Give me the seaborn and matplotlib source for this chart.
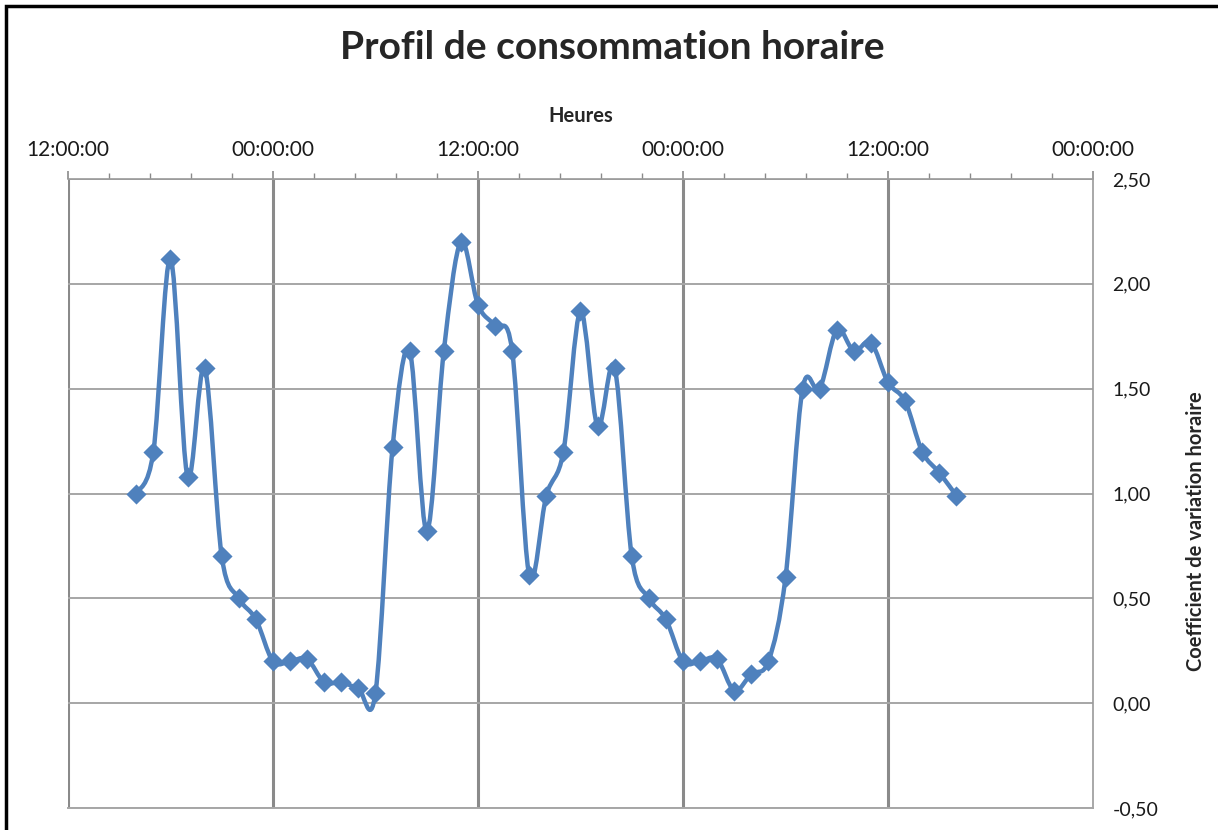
import numpy as np
import pandas as pd
import seaborn as sns
import matplotlib.pyplot as plt
from matplotlib.path import Path
from matplotlib.patches import PathPatch, Rectangle
from matplotlib.ticker import MultipleLocator, FuncFormatter

# heures depuis minuit du premier jour (16h jour 1 -> 16h jour 3)
heures = list(range(16, 65))
coef = [1.00, 1.20, 2.12, 1.08, 1.60, 0.70, 0.50, 0.40,
        0.20, 0.20, 0.21, 0.10, 0.10, 0.07, 0.05, 1.22, 1.68, 0.82, 1.68, 2.20,
        1.90, 1.80, 1.68, 0.61, 0.99, 1.20, 1.87, 1.32, 1.60, 0.70, 0.50, 0.40,
        0.20, 0.20, 0.21, 0.06, 0.14, 0.20, 0.60, 1.50, 1.50, 1.78, 1.68, 1.72,
        1.53, 1.44, 1.20, 1.10, 0.99]
xticks = [12, 24, 36, 48, 60, 72]
xlabels = ["12:00:00", "00:00:00", "12:00:00", "00:00:00", "12:00:00", "00:00:00"]

df = pd.DataFrame({"heure": heures, "coef": coef})

sns.set_style("white")
plt.rcParams['font.family'] = ['Lato', 'DejaVu Sans']

fig = plt.figure(figsize=(12.18, 8.3), dpi=100)
ax = fig.add_axes([0.0558, 0.0265, 0.8416, 0.7578])

bleu = "#4F81BD"

# courbe lissée façon Excel (Bezier Catmull-Rom)
x = df["heure"].to_numpy(float)
y = df["coef"].to_numpy(float)
n = len(x)
verts = [(x[0], y[0])]
codes = [Path.MOVETO]
for i in range(n - 1):
    x0, y0 = (x[i - 1], y[i - 1]) if i > 0 else (x[i], y[i])
    x3, y3 = (x[i + 2], y[i + 2]) if i + 2 < n else (x[i + 1], y[i + 1])
    c1 = (x[i] + (x[i + 1] - x0) / 6, y[i] + (y[i + 1] - y0) / 6)
    c2 = (x[i + 1] - (x3 - x[i]) / 6, y[i + 1] - (y3 - y[i]) / 6)
    verts += [c1, c2, (x[i + 1], y[i + 1])]
    codes += [Path.CURVE4] * 3
ax.add_patch(PathPatch(Path(verts, codes), facecolor="none", edgecolor=bleu,
                       lw=3.2, zorder=3, capstyle="round", joinstyle="round"))

sns.scatterplot(data=df, x="heure", y="coef", marker="D", s=105, color=bleu,
                edgecolor=bleu, linewidth=0, ax=ax, zorder=4)

ax.set_xlim(12, 72)
ax.set_ylim(-0.5, 2.5)

ax.xaxis.tick_top()
ax.xaxis.set_label_position("top")
ax.set_xticks(xticks)
ax.set_xticklabels(xlabels)
ax.xaxis.set_minor_locator(MultipleLocator(2.4))
ax.tick_params(axis="x", which="major", direction="out", length=6, width=1.2,
               color="#8a8a8a", labelsize=15, pad=7.5, labelcolor="#1a1a1a")
ax.tick_params(axis="x", which="minor", direction="out", length=4.5, width=1,
               color="#8a8a8a")
ax.set_xlabel("Heures", fontsize=14.5, fontweight="bold", labelpad=13)

ax.yaxis.tick_right()
ax.yaxis.set_label_position("right")
ax.yaxis.set_major_locator(MultipleLocator(0.5))
ax.yaxis.set_major_formatter(FuncFormatter(lambda v, p: f"{v:.2f}".replace(".", ",")))
ax.tick_params(axis="y", length=0, labelsize=14, pad=14, labelcolor="#1a1a1a")
ax.set_ylabel("Coefficient de variation horaire", fontsize=14.5, fontweight="bold")
ax.yaxis.set_label_coords(1.091, 0.44)

ax.grid(axis="x", which="major", color="#8a8a8a", lw=2.2)
ax.grid(axis="y", which="major", color="#a6a6a6", lw=1.4)
ax.get_xgridlines()[-1].set_visible(False)
ax.set_axisbelow(True)

ax.spines["left"].set_visible(False)
for s in ["top", "right"]:
    ax.spines[s].set_color("#9a9a9a")
    ax.spines[s].set_linewidth(1.2)
ax.spines["bottom"].set_color("#a6a6a6")
ax.spines["bottom"].set_linewidth(1.4)

fig.text(0.503, 0.943, "Profil de consommation horaire", ha="center", va="center",
         fontsize=28, fontweight="bold")

# cadre noir autour du graphique
fig.patches.append(Rectangle((0.005, -0.05), 1.2, 1.043, transform=fig.transFigure,
                             fill=False, edgecolor="black", lw=2.5))

fig.savefig("out.png", dpi=100)
